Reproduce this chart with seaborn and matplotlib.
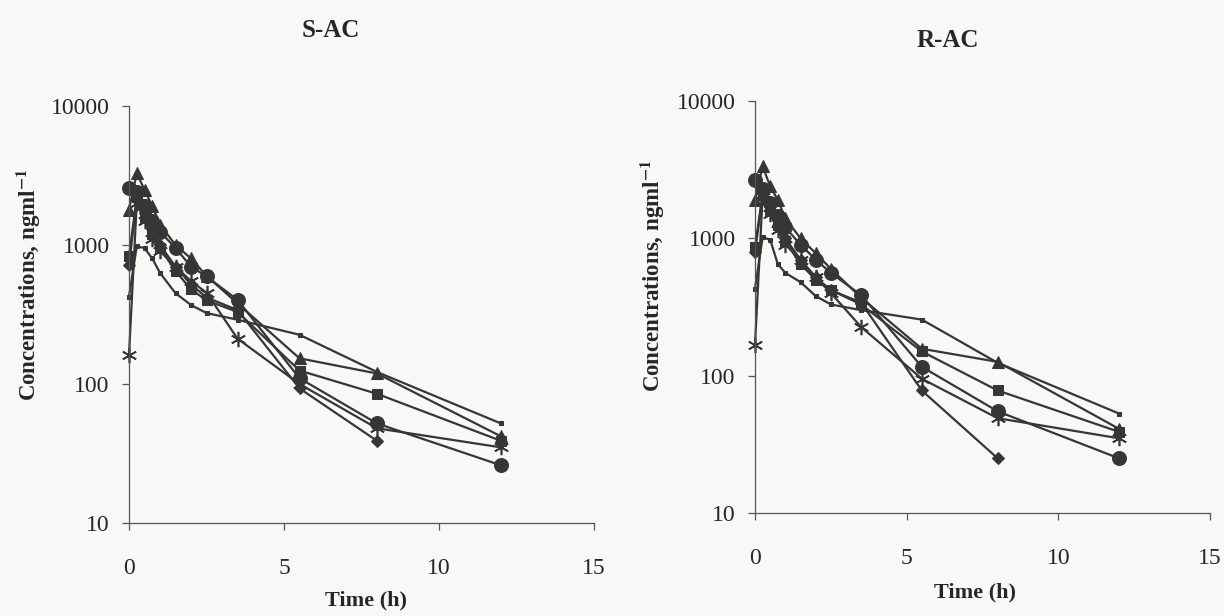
import numpy as np
import pandas as pd
import matplotlib
matplotlib.use("Agg")
import matplotlib.pyplot as plt
import seaborn as sns

# ---- data ----
times = [0, 0.25, 0.5, 0.75, 1, 1.5, 2, 2.5, 3.5, 5.5, 8, 12]

s_circle   = [2550, 2400, 1900, 1500, 1250, 950, 700, 594, 403, 110, 52, 26]
s_triangle = [1800, 3280, 2500, 1900, 1400, 1000, 800, 600, 380, 153, 119, 42]
s_square   = [830, 2200, 1600, 1200, 950, 650, 480, 400, 330, 125, 85, 39]
s_diamond  = [720, 2100, 1700, 1300, 1000, 700, 520, 420, 340, 93, 39, np.nan]
s_star     = [162, 2000, 1500, 1100, 900, 700, 550, 454, 212, 100, 48, 35]
s_small    = [425, 980, 950, 800, 630, 450, 370, 324, 290, 226, 122, 52]

r_circle   = [2680, 2300, 1800, 1450, 1200, 900, 700, 560, 386, 116, 55, 25]
r_triangle = [1900, 3340, 2400, 1900, 1400, 1000, 780, 600, 370, 157, 126, 41]
r_square   = [860, 2100, 1600, 1250, 950, 650, 500, 420, 330, 150, 78, 39]
r_diamond  = [800, 2000, 1600, 1250, 1000, 700, 520, 420, 340, 78, 25, np.nan]
r_star     = [168, 2000, 1500, 1150, 900, 700, 520, 400, 226, 95, 49, 35]
r_small    = [430, 1015, 980, 650, 560, 480, 380, 330, 300, 256, 124, 53]

series_names = ["circle", "triangle", "square", "diamond", "star", "small"]
panels = {
    "S-AC": [s_circle, s_triangle, s_square, s_diamond, s_star, s_small],
    "R-AC": [r_circle, r_triangle, r_square, r_diamond, r_star, r_small],
}
y_ticks = [10, 100, 1000, 10000]
x_ticks = [0, 5, 10, 15]

# ---- style ----
sns.set_style("white")
plt.rcParams["font.family"] = ["Liberation Serif", "DejaVu Serif"]
plt.rcParams["mathtext.fontset"] = "stix"

line_col = "#363636"
marker_style = {
    "circle":   dict(marker="o", markersize=10),
    "triangle": dict(marker="^", markersize=8),
    "square":   dict(marker="s", markersize=6.5),
    "diamond":  dict(marker="D", markersize=6.5),
    "star":     dict(marker=(6, 2, 0), markersize=11, markeredgewidth=1.2),
    "small":    dict(marker="s", markersize=3.5),
}

fig = plt.figure(figsize=(12.24, 6.16), dpi=100, facecolor="#f8f8f6")
axes_pos = {
    "S-AC": [129 / 1224, 1 - 523 / 616, 465 / 1224, 417 / 616],
    "R-AC": [755 / 1224, 1 - 513 / 616, 455 / 1224, 412 / 616],
}
title_pos = {"S-AC": (0.433, 1.182), "R-AC": (0.424, 1.148)}
xlabel_pos = {"S-AC": (0.509, -0.185), "R-AC": (0.484, -0.194)}
ylabel_pos = {"S-AC": (-0.215, 0.57), "R-AC": (-0.225, 0.575)}

for name, data in panels.items():
    ax = fig.add_axes(axes_pos[name])
    ax.set_facecolor("none")
    for sname, vals in zip(series_names, data):
        df = pd.DataFrame({"t": times, "c": vals}).dropna()
        sns.lineplot(data=df, x="t", y="c", ax=ax, color=line_col,
                     linewidth=1.6, estimator=None, sort=False,
                     markeredgecolor=line_col, markerfacecolor=line_col,
                     clip_on=False, **marker_style[sname])
    ax.set_yscale("log")
    ax.set_ylim(10, 10000)
    ax.set_xlim(0, 15)
    ax.set_yticks(y_ticks)
    ax.set_yticklabels([str(v) for v in y_ticks])
    ax.yaxis.set_minor_locator(matplotlib.ticker.NullLocator())
    ax.set_xticks(x_ticks)
    ax.set_xticklabels([str(v) for v in x_ticks])
    for sp in ["top", "right"]:
        ax.spines[sp].set_visible(False)
    for sp in ["left", "bottom"]:
        ax.spines[sp].set_color("#555555")
        ax.spines[sp].set_linewidth(0.9)
    ax.tick_params(axis="y", direction="out", length=5, width=0.9,
                   color="#555555", labelsize=17, pad=9, left=True)
    ax.tick_params(axis="x", direction="out", length=5, width=0.9,
                   color="#555555", labelsize=17, pad=20, bottom=True)
    ax.set_xlabel("")
    ax.set_ylabel("")
    ax.text(*title_pos[name], name, transform=ax.transAxes, ha="center",
            va="center", fontsize=18, fontweight="bold")
    ax.text(*xlabel_pos[name], "Time (h)", transform=ax.transAxes,
            ha="center", va="center", fontsize=16, fontweight="bold")
    ax.text(*ylabel_pos[name], r"Concentrations, ngml$^{\mathbf{-1}}$",
            transform=ax.transAxes, ha="center", va="center", rotation=90,
            fontsize=16.5, fontweight="bold")

fig.savefig("out.png", dpi=100, facecolor=fig.get_facecolor())
